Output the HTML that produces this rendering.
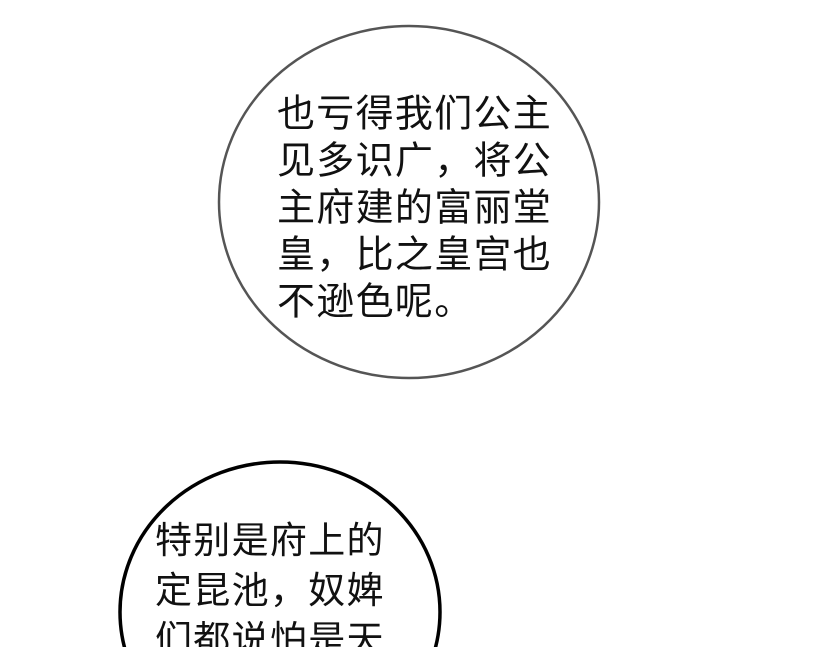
<!DOCTYPE html>
<html><head><meta charset="utf-8"><style>
html,body{margin:0;padding:0;background:#fff;width:828px;height:647px;overflow:hidden;}
body{position:relative;}
.t{position:absolute;font-family:"Liberation Sans","Noto Sans CJK SC",sans-serif;color:#111;white-space:nowrap;}
.t div{height:0;position:relative;}
.t span{position:absolute;left:0;transform:translateY(-50%);}
</style></head><body>
<svg width="828" height="647" style="position:absolute;left:0;top:0">
<ellipse cx="409" cy="202" rx="190" ry="176" fill="#fff" stroke="#555" stroke-width="2.5"/>
<ellipse cx="280" cy="612" rx="160" ry="150" fill="#fff" stroke="#000" stroke-width="3.5"/>
</svg>
<div class="t" style="left:277px;top:0;font-size:38px;letter-spacing:1.3px;">
<div style="top:110px"><span>也亏得我们公主</span></div>
<div style="top:157px"><span>见多识广，将公</span></div>
<div style="top:204px"><span>主府建的富丽堂</span></div>
<div style="top:251px"><span>皇，比之皇宫也</span></div>
<div style="top:298px"><span>不逊色呢。</span></div>
</div>
<div class="t" style="left:155px;top:0;font-size:37px;letter-spacing:1.3px;">
<div style="top:537px"><span>特别是府上的</span></div>
<div style="top:587px"><span>定昆池，奴婢</span></div>
<div style="top:636px"><span>们都说怕是天</span></div>
</div>
</body></html>
